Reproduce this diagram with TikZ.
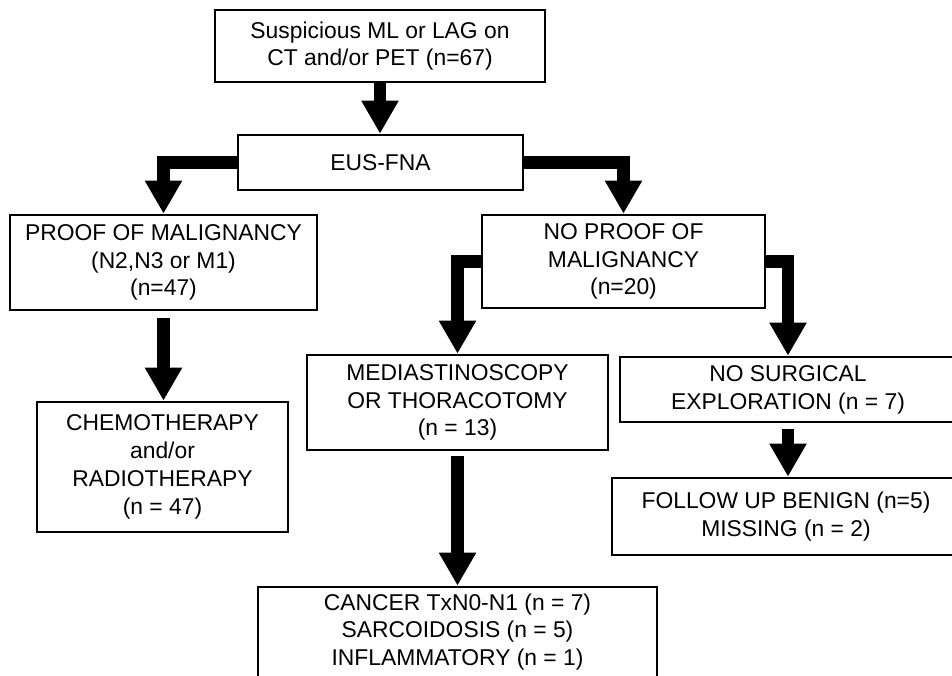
\documentclass[tikz,border=0pt]{standalone}
\usepackage{fontspec}
\setmainfont{Liberation Sans}
\usetikzlibrary{arrows.meta}

\tikzset{
  box/.style={draw, line width=1.5pt, align=center, inner sep=0pt,
    font=\fontsize{13}{15.8}\selectfont},
  flow/.style={line width=0.25cm, line join=miter,
    -{Triangle[width=0.7cm,length=0.66cm]}}
}

\begin{document}
\begin{tikzpicture}
    \clip (0,0) rectangle (19.04,-13.5);

    \node[box, minimum width=6.6cm, minimum height=1.44cm] (susp) at (7.6,-0.92)
        {Suspicious ML or LAG on\\CT and/or PET (n=67)};
    \node[box, minimum width=5.7cm, minimum height=1.1cm] (eus) at (7.61,-3.25) {EUS-FNA};

    \node[box, minimum width=6.14cm, minimum height=1.9cm] (proof) at (3.27,-5.25)
        {PROOF OF MALIGNANCY\\(N2,N3 or M1)\\(n=47)};
    \node[box, minimum width=5.66cm, minimum height=1.86cm] (noproof) at (12.47,-5.23)
        {NO PROOF OF\\MALIGNANCY\\(n=20)};

    \node[box, minimum width=5.02cm, minimum height=2.6cm] (chemo) at (3.25,-9.34)
        {CHEMOTHERAPY\\and/or\\RADIOTHERAPY\\(n = 47)};
    \node[box, minimum width=6.02cm, minimum height=1.9cm] (medi) at (9.15,-8.05)
        {MEDIASTINOSCOPY\\OR THORACOTOMY\\(n = 13)};
    \node[box, minimum width=6.72cm, minimum height=1.3cm] (nosurg) at (15.76,-7.79)
        {NO SURGICAL\\EXPLORATION (n = 7)};

    \node[box, minimum width=6.96cm, minimum height=1.54cm] (follow) at (15.72,-10.33)
        {FOLLOW UP BENIGN (n=5)\\MISSING (n = 2)};
    \node[box, minimum width=7.98cm, minimum height=1.8cm] (cancer) at (9.15,-12.64)
        {CANCER TxN0-N1 (n = 7)\\SARCOIDOSIS (n = 5)\\INFLAMMATORY (n = 1)};

    % arrows
    \draw[flow] (susp.south) -- (susp.south |- eus.north);
    \draw[flow] (eus.west) -| (proof.north);
    \draw[flow] (eus.east) -| (noproof.north);
    \draw[flow, shorten <=0.14cm] (proof.south) -- (proof.south |- chemo.north);
    \draw[flow] (noproof.west) -| (medi.north);
    \draw[flow] (noproof.east) -| (nosurg.north);
    \draw[flow, shorten <=0.1cm] (medi.south) -- (medi.south |- cancer.north);
    \draw[flow, shorten <=0.12cm] (nosurg.south) -- (nosurg.south |- follow.north);
\end{tikzpicture}
\end{document}
